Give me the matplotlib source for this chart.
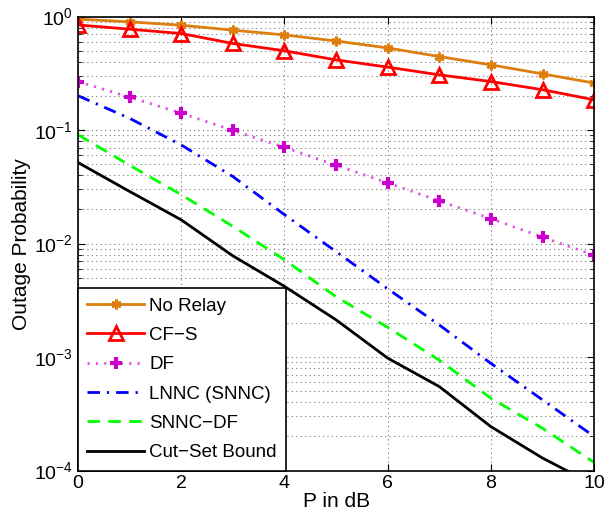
import numpy as np
import matplotlib.pyplot as plt
from matplotlib.ticker import LogLocator, NullFormatter

# Данные кривых вероятности отказа
p_db = [0, 1, 2, 3, 4, 5, 6, 7, 8, 9, 10]
no_relay = [0.95, 0.90, 0.84, 0.76, 0.69, 0.61, 0.53, 0.445, 0.376, 0.313, 0.26]
cf_s = [0.845, 0.775, 0.71, 0.58, 0.50, 0.416, 0.359, 0.307, 0.268, 0.227, 0.185]
df = [0.268, 0.195, 0.141, 0.0994, 0.0705, 0.049, 0.0343, 0.0238, 0.0166, 0.0114, 0.0079]
lnnc = [0.201, 0.127, 0.074, 0.039, 0.018, 0.0085, 0.0040, 0.00192, 0.00088, 0.00042, 0.0002]
snnc_df = [0.091, 0.049, 0.027, 0.0142, 0.0072, 0.0034, 0.00183, 0.00094, 0.000434, 0.000236, 0.000118]
cut_set = [0.0518, 0.0288, 0.0162, 0.0078, 0.0042, 0.00213, 0.00098, 0.00055, 0.000244, 0.000129, 0.000075]

plt.rcParams['font.family'] = ['Liberation Sans', 'DejaVu Sans']

fig = plt.figure(figsize=(6.05, 5.2), dpi=100)
ax = fig.add_axes([0.129, 0.095, 0.853, 0.873])

lw = 2.0
ax.semilogy(p_db, no_relay, '-', color='#dc7f0e', lw=lw, marker=(6, 2, 0),
            markersize=7, markeredgewidth=2, label='No Relay')
ax.semilogy(p_db, cf_s, '-', color='#ff0000', lw=lw, marker='^', markersize=10,
            markerfacecolor='none', markeredgewidth=2, label='CF\u2212S')
ax.semilogy(p_db, df, color='#dd55dd', lw=lw, dashes=(0.8, 2.2), marker='+',
            markersize=8, markeredgewidth=3, markeredgecolor='#cc00cc', label='DF')
ax.semilogy(p_db, lnnc, color='#0000ff', lw=lw, dashes=(4.5, 2.5, 0.8, 2.5),
            label='LNNC (SNNC)')
ax.semilogy(p_db, snnc_df, color='#00ff00', lw=lw, dashes=(4.5, 3), label='SNNC\u2212DF')
ax.semilogy(p_db, cut_set, '-', color='black', lw=lw, label='Cut\u2212Set Bound')

ax.set_xlim(0, 10)
ax.set_ylim(1e-4, 1)
ax.set_xticks([0, 2, 4, 6, 8, 10])
ax.yaxis.set_major_locator(LogLocator(base=10, numticks=10))
ax.yaxis.set_minor_locator(LogLocator(base=10, subs=np.arange(2, 10), numticks=10))
ax.yaxis.set_minor_formatter(NullFormatter())

ax.grid(True, which='major', color='#777777', lw=0.8, dashes=(1, 3))
ax.grid(True, which='minor', axis='y', color='#777777', lw=0.8, dashes=(1, 3))

ax.tick_params(which='both', direction='in', top=True, right=True, labelsize=14)
ax.tick_params(which='major', length=5)
ax.tick_params(which='minor', length=3)
for s in ax.spines.values():
    s.set_linewidth(1.2)

ax.set_xlabel('P in dB', fontsize=15, labelpad=0)
ax.set_ylabel('Outage Probability', fontsize=15, labelpad=2)

leg = ax.legend(loc='lower left', fontsize=13.5, fancybox=False, framealpha=1,
                edgecolor='black', borderaxespad=0, handlelength=3.0,
                handletextpad=0.3, labelspacing=0.65, borderpad=0.5)
leg.get_frame().set_linewidth(1.2)

fig.savefig('out.png', dpi=100)
